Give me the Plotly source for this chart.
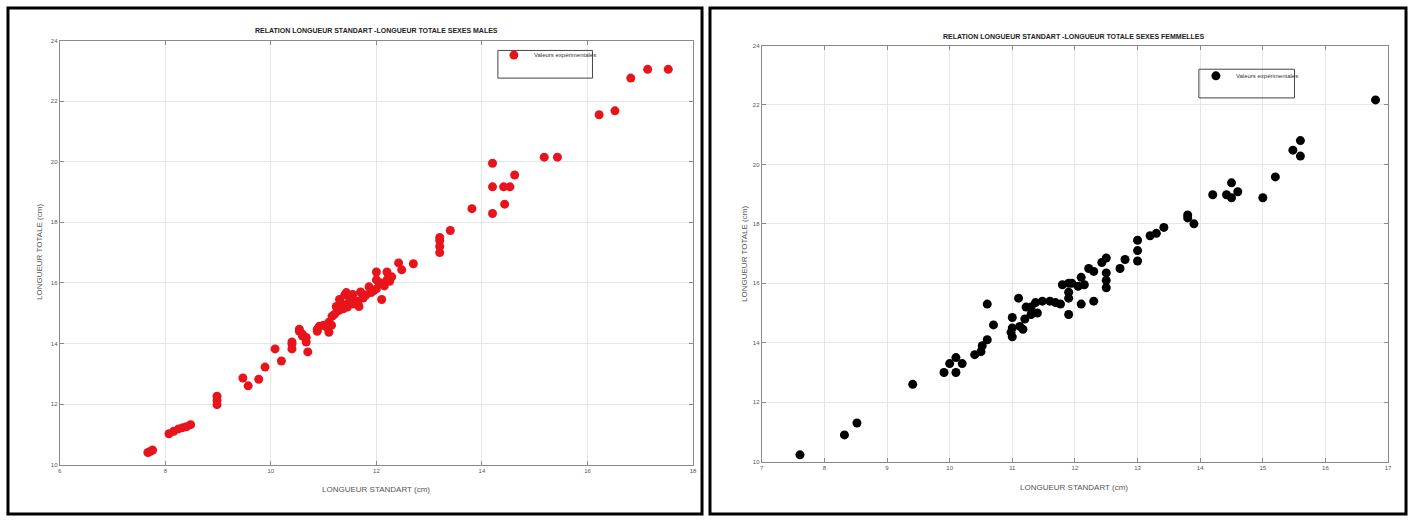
import plotly.graph_objects as go

W, H = 1414, 521

# ---------------- data ----------------
males_ls = [7.67, 7.76, 7.72, 8.07, 8.16, 8.25, 8.33, 8.40, 8.48, 8.98, 8.98, 8.98,
            9.47, 9.57, 9.77, 9.89, 10.08, 10.20, 10.40, 10.40, 10.40, 10.54, 10.54, 10.60,
            10.67, 10.67, 10.70, 10.60, 10.88, 10.92, 10.88, 11.10, 11.10, 11.16, 11.24, 11.30,
            11.20, 11.25, 11.35, 11.40, 11.43, 11.48, 11.50, 11.55, 11.60, 11.67, 11.70, 11.75,
            11.86, 11.90, 11.95, 12.00, 12.00, 12.05, 12.08, 12.10, 12.15, 12.20, 12.20, 12.29,
            12.25, 12.42, 12.48, 12.70, 11.00, 11.05, 11.15, 11.30, 11.38, 11.45, 11.55, 11.65,
            11.80, 12.00, 13.20, 13.20, 13.20, 13.20, 13.40, 13.81, 14.20, 14.20, 14.20, 14.43,
            14.41, 14.53, 14.62, 15.18, 15.43, 16.22, 16.52, 16.82, 17.14, 17.53]
males_lt = [10.40, 10.48, 10.44, 11.02, 11.10, 11.18, 11.22, 11.25, 11.32, 11.98, 12.12, 12.26,
            12.86, 12.60, 12.82, 13.22, 13.82, 13.42, 13.82, 13.98, 14.05, 14.40, 14.47, 14.24,
            14.05, 14.20, 13.72, 14.30, 14.40, 14.57, 14.47, 14.70, 14.37, 14.90, 15.22, 15.45,
            14.95, 15.05, 15.30, 15.60, 15.68, 15.35, 15.50, 15.62, 15.40, 15.22, 15.70, 15.50,
            15.87, 15.68, 15.75, 16.36, 16.10, 16.00, 16.00, 15.45, 15.90, 16.36, 16.10, 16.20,
            16.05, 16.66, 16.43, 16.63, 14.60, 14.55, 14.60, 15.10, 15.15, 15.20, 15.30, 15.40,
            15.60, 15.80, 17.00, 17.20, 17.40, 17.50, 17.73, 18.45, 18.29, 19.17, 19.95, 18.60,
            19.17, 19.17, 19.56, 20.15, 20.15, 21.55, 21.68, 22.76, 23.05, 23.05]

females_ls = [7.61, 8.32, 8.52, 9.41, 9.91, 10.00, 10.10, 10.10, 10.20, 10.40, 10.50, 10.52,
              10.60, 10.60, 10.70, 11.00, 11.00, 11.00, 10.98, 11.10, 11.12, 11.17, 11.20, 11.22,
              11.30, 11.30, 11.37, 11.40, 11.48, 11.60, 11.69, 11.77, 11.80, 11.90, 11.90, 11.90,
              11.90, 11.95, 12.05, 12.10, 12.15, 12.10, 12.22, 12.30, 12.30, 12.43, 12.50, 12.50,
              12.50, 12.50, 12.72, 12.80, 13.00, 13.00, 13.00, 13.20, 13.30, 13.42, 13.80, 13.80,
              13.90, 14.20, 14.42, 14.50, 14.50, 14.60, 15.00, 15.20, 15.48, 15.60, 15.60, 16.80]
females_lt = [10.23, 10.90, 11.30, 12.60, 13.00, 13.30, 13.50, 13.00, 13.30, 13.60, 13.70, 13.90,
              14.10, 15.30, 14.60, 14.20, 14.50, 14.85, 14.35, 15.50, 14.55, 14.45, 14.80, 15.20,
              15.20, 14.95, 15.35, 15.00, 15.40, 15.40, 15.35, 15.30, 15.95, 16.00, 15.70, 15.50,
              14.95, 16.00, 15.90, 16.20, 15.95, 15.30, 16.50, 16.40, 15.40, 16.70, 16.85, 16.35,
              16.10, 15.85, 16.50, 16.80, 16.75, 17.10, 17.45, 17.60, 17.68, 17.88, 18.30, 18.20,
              18.00, 18.98, 18.98, 19.38, 18.88, 19.08, 18.88, 19.58, 20.48, 20.80, 20.28, 22.17]

title_m = "RELATION LONGUEUR STANDART -LONGUEUR TOTALE SEXES MALES"
title_f = "RELATION LONGUEUR STANDART -LONGUEUR TOTALE SEXES FEMMELLES"
xlabel = "LONGUEUR STANDART (cm)"
ylabel = "LONGUEUR TOTALE (cm)"
legend_label = "Valeurs expérimentales"

# ---------------- helpers ----------------
def px(x):
    return x / W

def py(y):
    return 1 - y / H

fig = go.Figure()
fig.add_trace(go.Scatter(x=males_ls, y=males_lt, mode="markers", name=legend_label,
                         marker=dict(color="#e8141c", size=9, line=dict(width=0)),
                         xaxis="x", yaxis="y", legend="legend"))
fig.add_trace(go.Scatter(x=females_ls, y=females_lt, mode="markers", name=legend_label,
                         marker=dict(color="#000000", size=9, line=dict(width=0)),
                         xaxis="x2", yaxis="y2", legend="legend2"))

axis_common = dict(showline=True, linecolor="#8a8a8a", linewidth=1, mirror="ticks",
                   ticks="inside", ticklen=4, tickcolor="#8a8a8a",
                   showgrid=True, gridcolor="#e6e6e6", gridwidth=1, zeroline=False,
                   tickfont=dict(family="Liberation Sans, Arial", size=6, color="#555555"))

fig.update_layout(
    width=W, height=H,
    margin=dict(l=0, r=0, t=0, b=0),
    paper_bgcolor="white", plot_bgcolor="white",
    showlegend=True,
    xaxis=dict(domain=[px(58), px(694)], range=[6, 18], dtick=2, anchor="y", **axis_common),
    yaxis=dict(domain=[py(467), py(38)], range=[10, 24], dtick=2, anchor="x", **axis_common),
    xaxis2=dict(domain=[px(763), px(1392)], range=[7, 17], dtick=1, anchor="y2", **axis_common),
    yaxis2=dict(domain=[py(464), py(43)], range=[10, 24], dtick=2, anchor="x2", **axis_common),
    legend=dict(x=px(494), y=py(38), xanchor="left", yanchor="top",
                bgcolor="rgba(0,0,0,0)", borderwidth=0,
                font=dict(family="Liberation Sans, Arial", size=6, color="#333333"),
                itemwidth=30, tracegroupgap=0),
    legend2=dict(x=px(1199), y=py(59), xanchor="left", yanchor="top",
                 bgcolor="rgba(0,0,0,0)", borderwidth=0,
                 font=dict(family="Liberation Sans, Arial", size=6, color="#333333"),
                 itemwidth=30, tracegroupgap=0),
)

shapes = [
    # outer frames
    dict(type="rect", xref="paper", yref="paper", x0=px(6), x1=px(703), y0=py(517), y1=py(5),
         line=dict(color="black", width=3)),
    dict(type="rect", xref="paper", yref="paper", x0=px(711), x1=px(1410), y0=py(517), y1=py(5),
         line=dict(color="black", width=3)),
    # legend boxes
    dict(type="rect", xref="paper", yref="paper", x0=px(498), x1=px(593), y0=py(76), y1=py(48),
         line=dict(color="#444444", width=1)),
    dict(type="rect", xref="paper", yref="paper", x0=px(1202), x1=px(1298), y0=py(96), y1=py(67),
         line=dict(color="#444444", width=1)),
]
fig.update_layout(shapes=shapes)

font_t = dict(family="Liberation Sans Narrow, Liberation Sans, Arial", size=7, color="#222222")
font_l = dict(family="Liberation Sans Narrow, Liberation Sans, Arial", size=8, color="#555555")
annotations = [
    dict(text="<b>" + title_m + "</b>", x=px(376), y=py(28), xref="paper", yref="paper",
         showarrow=False, font=font_t, xanchor="center", yanchor="middle"),
    dict(text="<b>" + title_f + "</b>", x=px(1077), y=py(34), xref="paper", yref="paper",
         showarrow=False, font=font_t, xanchor="center", yanchor="middle"),
    dict(text=xlabel, x=px(376), y=py(492), xref="paper", yref="paper",
         showarrow=False, font=font_l, xanchor="center", yanchor="middle"),
    dict(text=xlabel, x=px(1077), y=py(490), xref="paper", yref="paper",
         showarrow=False, font=font_l, xanchor="center", yanchor="middle"),
    dict(text=ylabel, x=px(37), y=py(252), xref="paper", yref="paper", textangle=-90,
         showarrow=False, font=font_l, xanchor="center", yanchor="middle"),
    dict(text=ylabel, x=px(745), y=py(254), xref="paper", yref="paper", textangle=-90,
         showarrow=False, font=font_l, xanchor="center", yanchor="middle"),
]
fig.update_layout(annotations=annotations)

fig.write_html("out.html")
